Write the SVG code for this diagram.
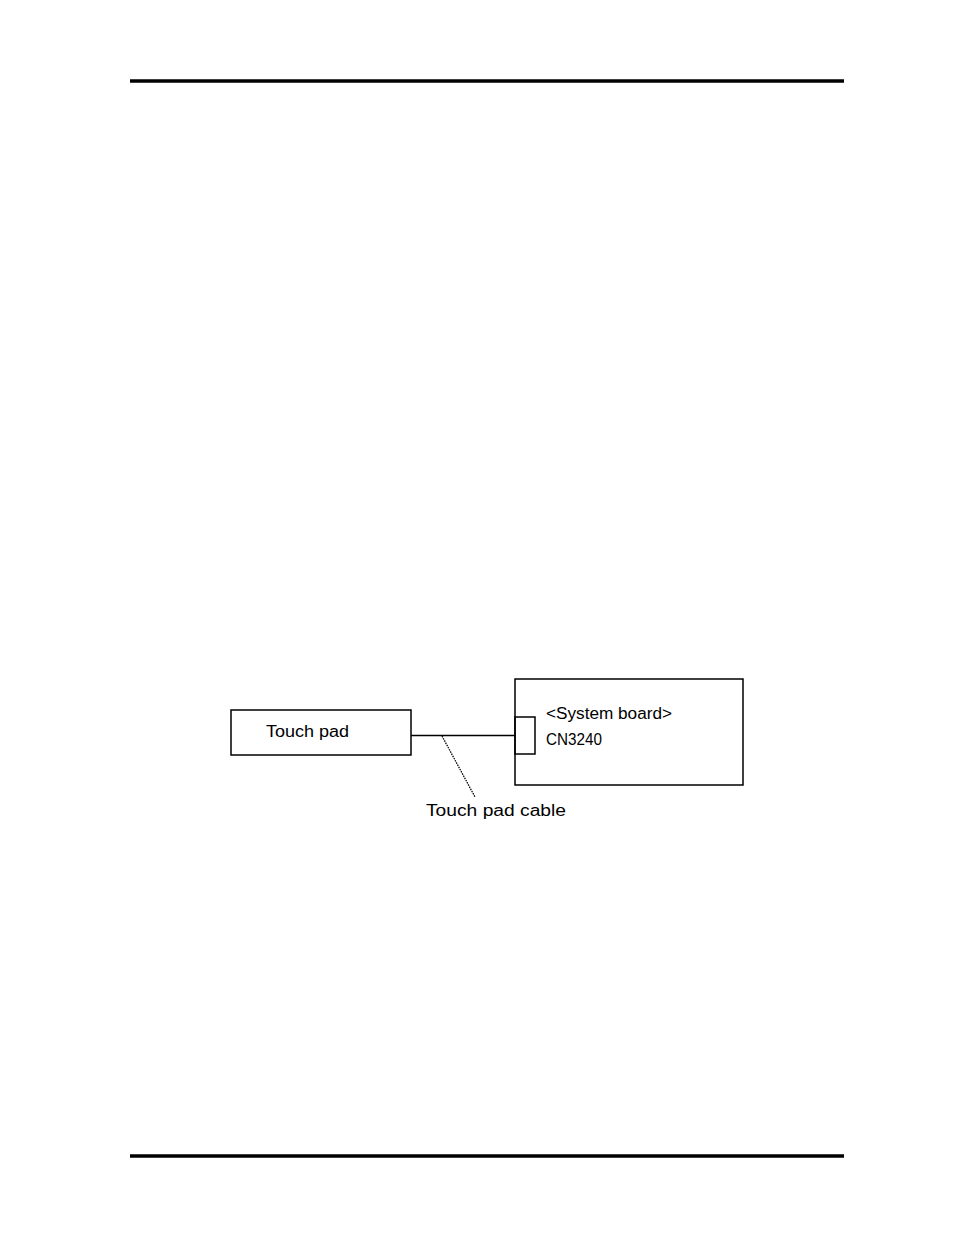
<svg xmlns="http://www.w3.org/2000/svg" width="954" height="1235" viewBox="0 0 954 1235">
<style>
.box{fill:none;stroke:#000;stroke-width:1.5}
.t{font-family:"Liberation Sans",Arial,sans-serif;font-size:16px;fill:#000}
.rule{stroke:#000;stroke-width:3.5}
</style>
<rect width="954" height="1235" fill="#fff"/>
<line class="rule" x1="130" y1="81" x2="844" y2="81"/>
<line class="rule" x1="130" y1="1156" x2="844" y2="1156"/>
<g id="touchpad">
<rect class="box" x="231" y="710" width="180" height="45"/>
<text class="t" x="266" y="737" textLength="83" lengthAdjust="spacingAndGlyphs">Touch pad</text>
</g>
<g id="systemboard">
<rect class="box" x="515" y="679" width="228" height="106"/>
<rect class="box" x="515" y="717" width="20" height="37"/>
<text class="t" x="546" y="719" textLength="126" lengthAdjust="spacingAndGlyphs">&lt;System board&gt;</text>
<text class="t" x="546" y="745" textLength="56" lengthAdjust="spacingAndGlyphs">CN3240</text>
</g>
<g id="connectors">
<line x1="411" y1="735.5" x2="515" y2="735.5" stroke="#000" stroke-width="1.5"/>
<line x1="442" y1="736" x2="475" y2="797" stroke="#000" stroke-width="1.3" stroke-dasharray="1.5,1"/>
</g>
<g id="cable-label">
<text class="t" x="426" y="816" textLength="140" lengthAdjust="spacingAndGlyphs">Touch pad cable</text>
</g>
</svg>
